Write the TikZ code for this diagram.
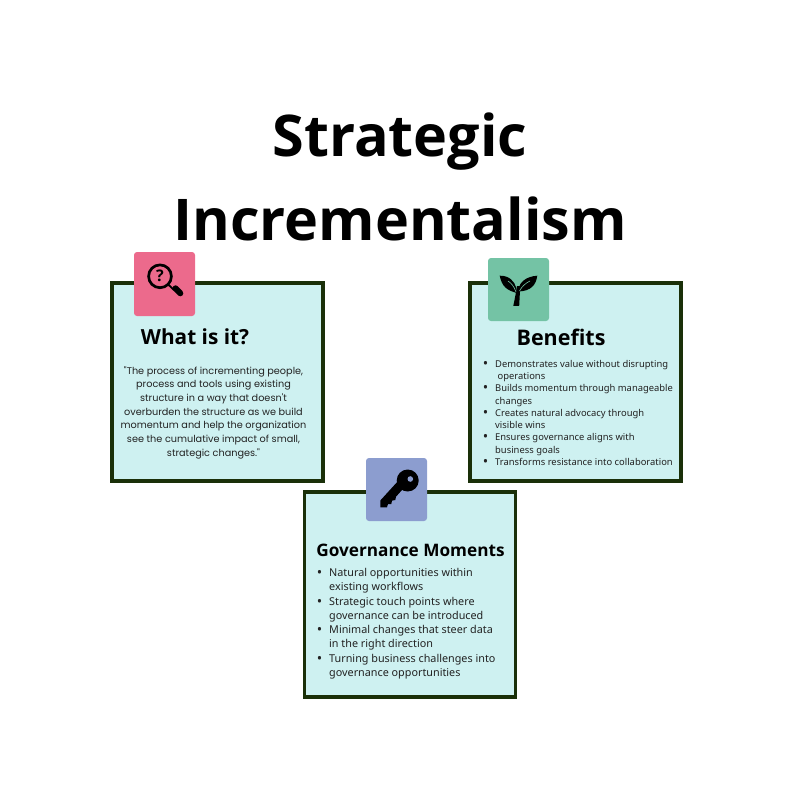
\documentclass[tikz,border=0pt]{standalone}
\usepackage{fontspec}
\setmainfont{Noto Sans}
\newfontfamily\headfont{Open Sans}
\newfontfamily\quotefont{Poppins}
\usetikzlibrary{positioning}
\definecolor{cardfill}{HTML}{CEF1F1}
\definecolor{cardline}{HTML}{1A3009}
\definecolor{pinkicon}{HTML}{EC6A8C}
\definecolor{greenicon}{HTML}{74C3A5}
\definecolor{blueicon}{HTML}{8C9DCF}
\definecolor{bodyink}{HTML}{222222}
\newcommand{\bul}{\llap{\raisebox{-.2ex}{\Large\textbullet}\hspace{7pt}}}
\tikzset{
  card/.style={draw=cardline,line width=3.8pt,fill=cardfill,minimum width=211pt,minimum height=198pt,inner sep=0pt},
  iconbox/.style={rounded corners=3pt,minimum width=61pt,minimum height=63pt,inner sep=0pt},
  titletext/.style={font=\headfont\fontsize{57.5}{83.5}\selectfont\bfseries,align=center,inner sep=0pt},
  heading/.style={font=\headfont\fontsize{20.8}{25}\selectfont\bfseries,inner sep=0pt},
  benefitlist/.style={font=\fontsize{9.4}{12.25}\selectfont,text=bodyink,align=left,inner sep=0pt,anchor=north west},
  momentlist/.style={font=\fontsize{10.8}{14.3}\selectfont,text=bodyink,align=left,inner sep=0pt,anchor=north west},
}
\begin{document}
\begin{tikzpicture}[x=1pt,y=-1pt]
  \useasboundingbox (0,0) rectangle (800,800);
  \node[titletext] (title) at (400,177) {Strategic\\Incrementalism};

  % cards
  \node[card] (whatcard) at (217.5,382) {};
  \node[card] (benefitcard) at (575.5,382) {};
  \node[card,minimum height=205pt] (momentcard) at (410,594.5) {};

  % icon squares
  \node[iconbox,fill=pinkicon,minimum height=64pt] (whaticon) at (164.5,284) {};
  \node[iconbox,fill=greenicon] (benefiticon) at (518.5,289.5) {};
  \node[iconbox,fill=blueicon] (momenticon) at (396.5,489.5) {};

  % magnifier
  \draw[line width=2.7pt] (160,276.3) circle (11.4pt);
  \draw[line width=1.8pt] (168.5,284.8) -- (174,290);
  \draw[line width=6pt,line cap=round] (175.5,288.3) -- (180.3,293.3);
  \node[font=\headfont\fontsize{16}{16}\selectfont\bfseries,inner sep=0pt] (whatmark) at (160,276.3) {?};

  % sprout
  \fill (513.3,305.8) .. controls (515,298) and (516,292) .. (517,286) -- (520,286)
    .. controls (520,293) and (519.5,299) .. (519.2,305.8) -- cycle;
  \fill (499.7,275.7) .. controls (509,275.5) and (514.5,281) .. (516.3,288) -- (516.5,293)
    .. controls (507,290) and (502,287) .. cycle;
  \fill (537.3,275.7) .. controls (526,276.5) and (520,282) .. (518.3,289) -- (518.5,291.5)
    .. controls (531,291) and (536,285) .. cycle;
  \draw[greenicon,line width=.6pt] (508,281) .. controls (511,283) and (514,286) .. (516,292);
  \draw[greenicon,line width=.6pt] (530,281) .. controls (526,283) and (522,286) .. (519.5,291);

  % key
  \fill (407.7,480.5) circle (11pt);
  \fill (399,480) -- (380.3,500.5) -- (380.3,507.3) -- (387,507.3) -- (388,504) -- (391.3,504) -- (392,500.7)
    -- (395.3,500) -- (396,496.7) -- (402,490) -- cycle;
  \fill[blueicon] (410.3,479) circle (2.8pt);

  % headings
  \node[heading] (whathead) at (195,337) {What is it?};
  \node[heading,font=\headfont\fontsize{21.5}{25}\selectfont\bfseries] (benefithead) at (561,337) {Benefits};
  \node[heading,font=\headfont\fontsize{17.2}{22}\selectfont\bfseries] (momenthead) at (410.5,550) {Governance Moments};

  % texts
  \node[font=\quotefont\fontsize{9.7}{13.65}\selectfont,text=bodyink,align=center,inner sep=0pt] (whattext) at (213.5,412.5)
    {"The process of incrementing people,\\process and tools using existing\\structure in a way that doesn't\\overburden the structure as we build\\momentum and help the organization\\see the cumulative impact of small,\\strategic changes."};
  \node[benefitlist] (benefittext) at (495,360)
    {\bul Demonstrates value without disrupting\\\hspace*{2.5pt}operations\\
     \bul Builds momentum through manageable\\changes\\
     \bul Creates natural advocacy through\\visible wins\\
     \bul Ensures governance aligns with\\business goals\\
     \bul Transforms resistance into collaboration};
  \node[momentlist] (momenttext) at (329,568)
    {\bul Natural opportunities within\\existing workflows\\
     \bul Strategic touch points where\\governance can be introduced\\
     \bul Minimal changes that steer data\\in the right direction\\
     \bul Turning business challenges into\\governance opportunities};
\end{tikzpicture}
\end{document}
